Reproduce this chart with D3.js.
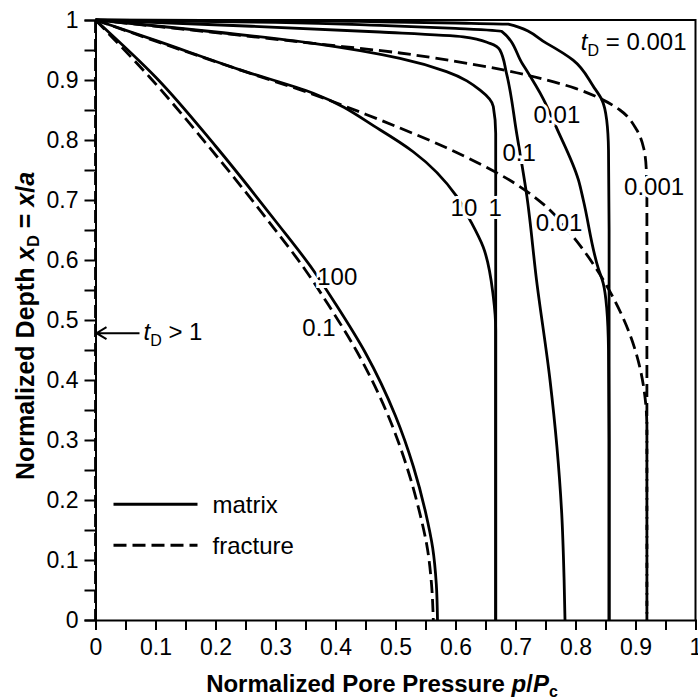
<!DOCTYPE html>
<html>
<head>
<meta charset="utf-8">
<script src="https://cdn.jsdelivr.net/npm/d3@7"></script>
<style>
  body { margin: 0; background: #fff; }
  svg text { font-family: "Liberation Sans", Arial, Helvetica, sans-serif; fill: #000; }
</style>
</head>
<body>
<svg id="chart" width="698" height="700"></svg>
<script>
// Pressure profiles: each point is [p/Pc, xD]
const matrixT0001 = [[0,1],[0.3,0.999],[0.474,0.997],[0.6,0.995],[0.688,0.993],[0.752,0.961],[0.796,0.933],[0.83,0.889],[0.844,0.867],[0.852,0.833],[0.855,0.783],[0.856,0.65],[0.856,0]];
const matrixT001  = [[0,1],[0.3,0.996],[0.474,0.991],[0.6,0.986],[0.677,0.981],[0.711,0.928],[0.746,0.869],[0.769,0.819],[0.805,0.733],[0.813,0.70],[0.838,0.586],[0.846,0.562],[0.852,0.52],[0.855,0.45],[0.856,0.3],[0.856,0]];
const matrixT01   = [[0,1],[0.25,0.99],[0.474,0.98],[0.613,0.972],[0.6575,0.961],[0.674,0.95],[0.685,0.911],[0.702,0.811],[0.719,0.706],[0.735,0.567],[0.7575,0.40],[0.769,0.289],[0.777,0.178],[0.781,0.067],[0.7825,0]];
const matrixT1    = [[0,1],[0.363,0.961],[0.5075,0.936],[0.585,0.914],[0.641,0.883],[0.663,0.856],[0.667,0.811],[0.667,0.6],[0.667,0]];
const matrixT10   = [[0,1],[0.1,0.966],[0.241,0.917],[0.363,0.878],[0.474,0.817],[0.53,0.78],[0.602,0.706],[0.624,0.667],[0.646,0.622],[0.663,0.539],[0.667,0.483],[0.667,0.3],[0.667,0]];
const matrixT100  = [[0,1],[0.1,0.905],[0.2,0.79],[0.3,0.665],[0.363,0.583],[0.4,0.527],[0.45,0.445],[0.5,0.34],[0.53,0.255],[0.55,0.18],[0.562,0.12],[0.568,0.06],[0.57,0]];

const fractureT0001 = [[0,1],[0.2,0.979],[0.363,0.961],[0.5075,0.945],[0.6,0.931],[0.669,0.919],[0.752,0.9],[0.8,0.886],[0.835,0.872],[0.874,0.85],[0.902,0.817],[0.914,0.785],[0.918,0.75],[0.919,0.70],[0.919,0]];
const fractureT001  = [[0,1],[0.12,0.958],[0.252,0.913],[0.363,0.876],[0.45,0.843],[0.5075,0.82],[0.585,0.787],[0.641,0.76],[0.7,0.727],[0.75,0.69],[0.791,0.645],[0.835,0.585],[0.863,0.537],[0.891,0.475],[0.9075,0.42],[0.916,0.37],[0.919,0.32],[0.919,0]];
const fractureT01   = [[0,1],[0.09,0.905],[0.188,0.79],[0.288,0.665],[0.35,0.583],[0.387,0.527],[0.437,0.445],[0.488,0.34],[0.519,0.255],[0.54,0.18],[0.553,0.12],[0.56,0.06],[0.563,0]];
const fractureLate  = [[0,1],[0,0]];

// Curve labels: [text, p/Pc, xD] (text centre)
const curveLabels = [
  ["100",   0.403, 0.573],
  ["0.1",   0.3725, 0.488],
  ["10",    0.614, 0.687],
  ["1",     0.666, 0.687],
  ["0.01",  0.7725, 0.663],
  ["0.1",   0.706, 0.780],
  ["0.01",  0.769, 0.843],
  ["0.001", 0.931, 0.723]
];

const xTicks = d3.range(0, 21).map(i => i / 20);
const yTicks = d3.range(0, 21).map(i => i / 20);
const tickLabels = ["0","0.1","0.2","0.3","0.4","0.5","0.6","0.7","0.8","0.9","1"];

const svg = d3.select("#chart");
const plotLeft = 95.5, plotTop = 20, plotW = 600, plotH = 600;
const x = d3.scaleLinear().domain([0, 1]).range([plotLeft, plotLeft + plotW]);
const y = d3.scaleLinear().domain([0, 1]).range([plotTop + plotH, plotTop]);

const fmt = d => {
  const k = Math.round(d * 20);
  return k % 2 === 0 ? tickLabels[k / 2] : "";
};

// Frame (top and right)
svg.append("path")
  .attr("d", `M${x(0)},${y(1)}H${x(1)}V${y(0)}`)
  .attr("fill", "none").attr("stroke", "#000").attr("stroke-width", 2);

// Axes
const xAxis = svg.append("g").attr("transform", `translate(0,${y(0)})`)
  .call(d3.axisBottom(x).tickValues(xTicks).tickSize(10).tickPadding(9).tickFormat(fmt));
const yAxis = svg.append("g").attr("transform", `translate(${x(0)},0)`)
  .call(d3.axisLeft(y).tickValues(yTicks).tickSize(11).tickPadding(6).tickFormat(fmt));
[xAxis, yAxis].forEach(g => {
  g.select(".domain").attr("stroke", "#000").attr("stroke-width", 2);
  g.selectAll(".tick line").attr("stroke", "#000").attr("stroke-width", 2);
  g.selectAll(".tick text").attr("font-size", 23)
    .style("font-family", '"Liberation Sans", Arial, sans-serif');
});

// Profiles
const line = d3.line().x(d => x(d[0])).y(d => y(d[1])).curve(d3.curveMonotoneY);
const curves = svg.append("g").attr("fill", "none").attr("stroke", "#000").attr("stroke-width", 2.8);
[matrixT0001, matrixT001, matrixT01, matrixT1, matrixT10, matrixT100].forEach(c =>
  curves.append("path").attr("d", line(c)));
[fractureT0001, fractureT001, fractureT01, fractureLate].forEach(c =>
  curves.append("path").attr("d", line(c)).attr("stroke-dasharray", "13,6"));

// Curve labels with white halo so the lines break around them
svg.append("g").selectAll("text").data(curveLabels).join("text")
  .attr("x", d => x(d[1])).attr("y", d => y(d[2]))
  .attr("text-anchor", "middle").attr("dy", "0.36em")
  .attr("font-size", 24)
  .attr("stroke", "#fff").attr("stroke-width", 6).attr("paint-order", "stroke")
  .style("fill", "#000")
  .text(d => d[0]);

// tD = 0.001 note
const note = svg.append("text").attr("x", x(0.985)).attr("y", 50)
  .attr("text-anchor", "end").attr("font-size", 24);
note.append("tspan").attr("font-style", "italic").text("t");
note.append("tspan").attr("font-size", 16).attr("dy", 6).text("D");
note.append("tspan").attr("dy", -6).text(" = 0.001");

// Arrow for tD > 1
const arrowY = y(0.478);
svg.append("path")
  .attr("d", `M${x(0) + 44},${arrowY}H${x(0) + 1}M${x(0) + 11},${arrowY - 6}L${x(0) + 1},${arrowY}L${x(0) + 11},${arrowY + 6}`)
  .attr("fill", "none").attr("stroke", "#000").attr("stroke-width", 2);
const tl = svg.append("text").attr("x", x(0) + 48).attr("y", arrowY + 7).attr("font-size", 24);
tl.append("tspan").attr("font-style", "italic").text("t");
tl.append("tspan").attr("font-size", 16).attr("dy", 6).text("D");
tl.append("tspan").attr("dy", -6).text(" > 1");

// Legend
const legend = [["matrix", null], ["fracture", "13,6"]];
const lg = svg.append("g").attr("transform", `translate(${x(0) + 18},${y(0.193)})`);
legend.forEach((d, i) => {
  lg.append("line").attr("x1", 0).attr("x2", 84).attr("y1", i * 41).attr("y2", i * 41)
    .attr("stroke", "#000").attr("stroke-width", 3)
    .attr("stroke-dasharray", d[1]);
  lg.append("text").attr("x", 99).attr("y", i * 41).attr("dy", "0.36em")
    .attr("font-size", 24).text(d[0]);
});

// Axis titles
const xt = svg.append("text").attr("x", 382).attr("y", 692)
  .attr("text-anchor", "middle").attr("font-size", 24).attr("font-weight", "bold");
xt.append("tspan").text("Normalized Pore Pressure ");
xt.append("tspan").attr("font-style", "italic").text("p");
xt.append("tspan").text("/");
xt.append("tspan").attr("font-style", "italic").text("P");
xt.append("tspan").attr("font-size", 16).attr("dy", 5).text("c");

const yt = svg.append("text").attr("transform", `translate(34,${y(0.49)}) rotate(-90)`)
  .attr("text-anchor", "middle").attr("font-size", 25).attr("font-weight", "bold");
yt.append("tspan").text("Normalized Depth ");
yt.append("tspan").attr("font-style", "italic").text("x");
yt.append("tspan").attr("font-size", 16).attr("dy", 5).text("D");
yt.append("tspan").attr("dy", -5).text(" = ");
yt.append("tspan").attr("font-style", "italic").text("x");
yt.append("tspan").text("/");
yt.append("tspan").attr("font-style", "italic").text("a");
</script>
</body>
</html>
